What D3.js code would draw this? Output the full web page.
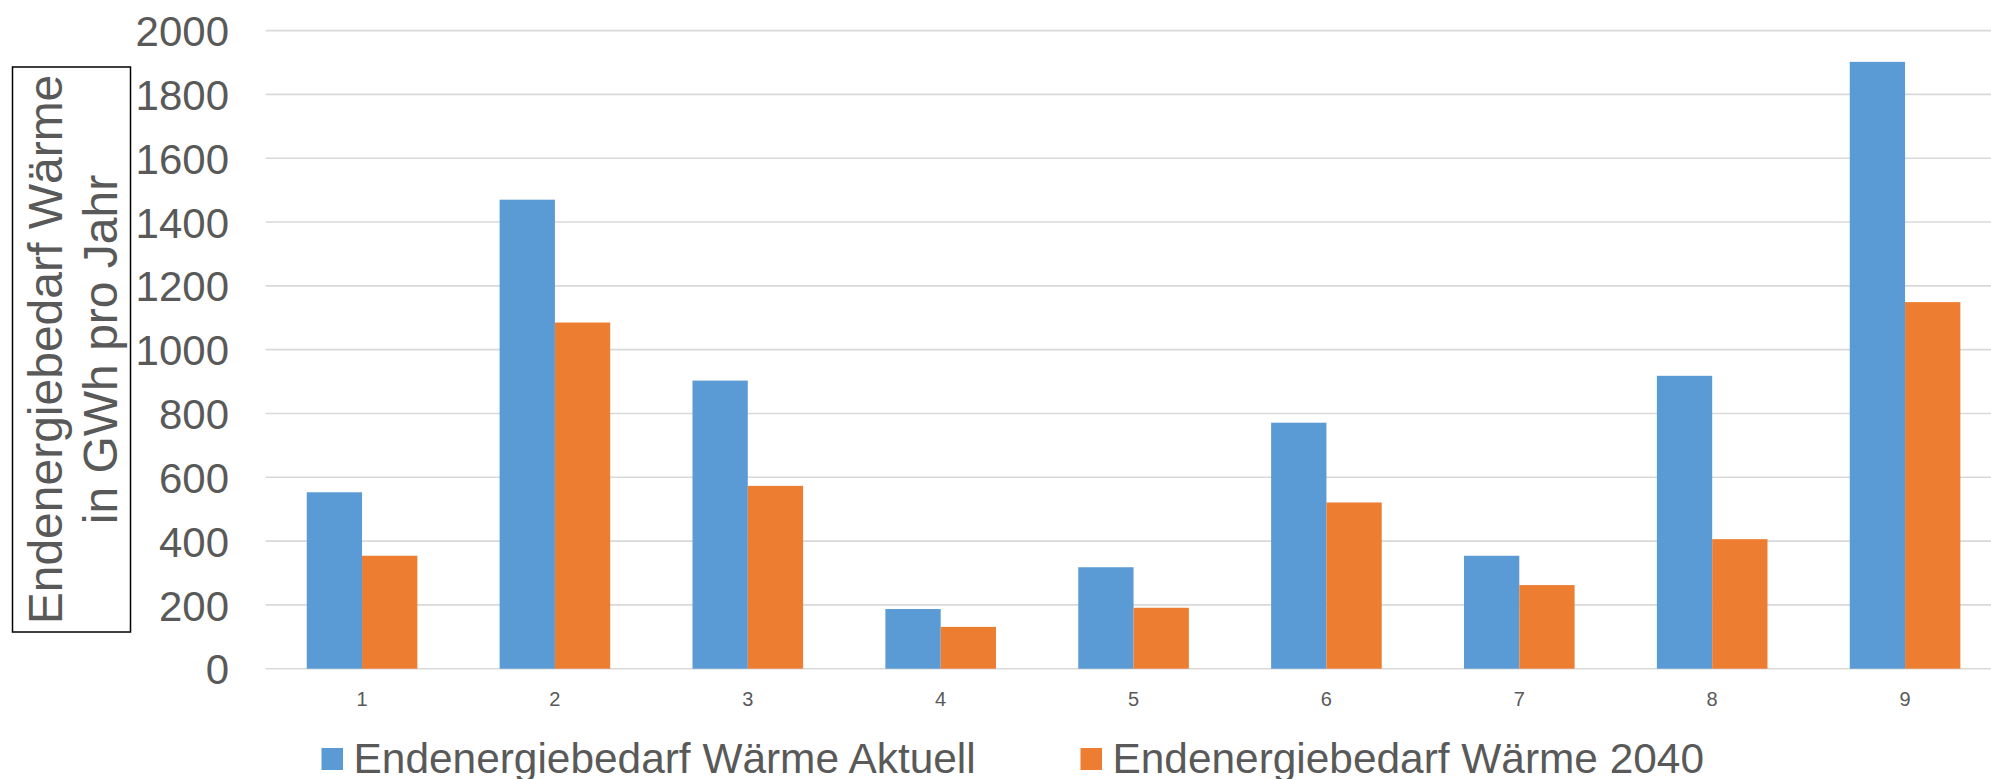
<!DOCTYPE html>
<html>
<head>
<meta charset="utf-8">
<script src="https://cdn.jsdelivr.net/npm/d3@7"></script>
<style>
  html, body { margin: 0; padding: 0; background: #fff; overflow: hidden; }
  svg { display: block; font-family: Arial, "Liberation Sans", sans-serif; }
</style>
</head>
<body>
<svg id="chart" width="1991" height="779"></svg>
<script>
// Districts 1–9, final energy demand for heat (GWh per year)
const categories = ["1", "2", "3", "4", "5", "6", "7", "8", "9"];
const seriesNames = ["Endenergiebedarf Wärme Aktuell", "Endenergiebedarf Wärme 2040"];
const aktuell = [553, 1470, 903, 187, 318, 771, 354, 918, 1902];
const ziel2040 = [354, 1085, 573, 131, 191, 521, 262, 406, 1149];
const yTicks = [0, 200, 400, 600, 800, 1000, 1200, 1400, 1600, 1800, 2000];
const colors = ["#5b9bd5", "#ed7d31"];
const axisTitle = ["Endenergiebedarf Wärme", "in GWh pro Jahr"];

const svg = d3.select("#chart");
const textColor = "#595959";
const gridColor = "#d9d9d9";

const plot = { left: 265.6, right: 2001.5, top: 30.6, bottom: 668.7 };

const x = d3.scaleBand()
  .domain(categories)
  .range([plot.left, plot.right])
  .paddingInner(0)
  .paddingOuter(0);

const y = d3.scaleLinear()
  .domain([0, 2000])
  .range([plot.bottom, plot.top]);

const barW = 55.3;

// horizontal gridlines
svg.append("g")
  .selectAll("line")
  .data(yTicks)
  .join("line")
  .attr("x1", plot.left)
  .attr("x2", 1991)
  .attr("y1", d => y(d))
  .attr("y2", d => y(d))
  .attr("stroke", gridColor)
  .attr("stroke-width", 1.6);

// y tick labels
const yAxis = d3.axisLeft(y).tickValues(yTicks).tickSize(0).tickPadding(0).tickFormat(d3.format("d"));
const yg = svg.append("g").attr("transform", "translate(229,0)").call(yAxis);
yg.select(".domain").remove();
yg.selectAll("text")
  .attr("fill", textColor)
  .attr("font-size", 42)
  .attr("dy", "0.36em")
  .attr("font-family", "Arial, 'Liberation Sans', sans-serif");

// x tick labels
const xAxis = d3.axisBottom(x).tickSize(0).tickPadding(0);
const xg = svg.append("g").attr("transform", "translate(0,698.7)").call(xAxis);
xg.select(".domain").remove();
xg.selectAll("text")
  .attr("fill", textColor)
  .attr("font-size", 20)
  .attr("dy", "0.36em")
  .attr("font-family", "Arial, 'Liberation Sans', sans-serif");

// bars
const series = [aktuell, ziel2040];
series.forEach((vals, si) => {
  svg.append("g")
    .selectAll("rect")
    .data(vals)
    .join("rect")
    .attr("x", (d, i) => x(categories[i]) + x.bandwidth() / 2 + (si === 0 ? -barW : 0))
    .attr("width", barW)
    .attr("y", d => y(d))
    .attr("height", d => y(0) - y(d))
    .attr("fill", colors[si]);
});

// y-axis title in a framed box, rotated
const titleBox = { x: 12.5, y: 67, w: 118, h: 565 };
svg.append("rect")
  .attr("x", titleBox.x)
  .attr("y", titleBox.y)
  .attr("width", titleBox.w)
  .attr("height", titleBox.h)
  .attr("fill", "none")
  .attr("stroke", "#000")
  .attr("stroke-width", 1.5);

const titleG = svg.append("g")
  .attr("transform", `translate(0,${titleBox.y + titleBox.h / 2}) rotate(-90)`);
const baselines = [62.3, 116.7];
axisTitle.forEach((t, i) => {
  titleG.append("text")
    .attr("x", 0)
    .attr("y", baselines[i])
    .attr("text-anchor", "middle")
    .attr("fill", textColor)
    .attr("font-size", 48)
    .text(t);
});

// legend
const legendItems = [
  { sx: 321.5, tx: 353.6 },
  { sx: 1080.5, tx: 1112.5 }
];
legendItems.forEach((p, i) => {
  svg.append("rect")
    .attr("x", p.sx)
    .attr("y", 748)
    .attr("width", 21.5)
    .attr("height", 22)
    .attr("fill", colors[i]);
  svg.append("text")
    .attr("x", p.tx)
    .attr("y", 772.5)
    .attr("fill", textColor)
    .attr("font-size", 42.4)
    .text(seriesNames[i]);
});
</script>
</body>
</html>
